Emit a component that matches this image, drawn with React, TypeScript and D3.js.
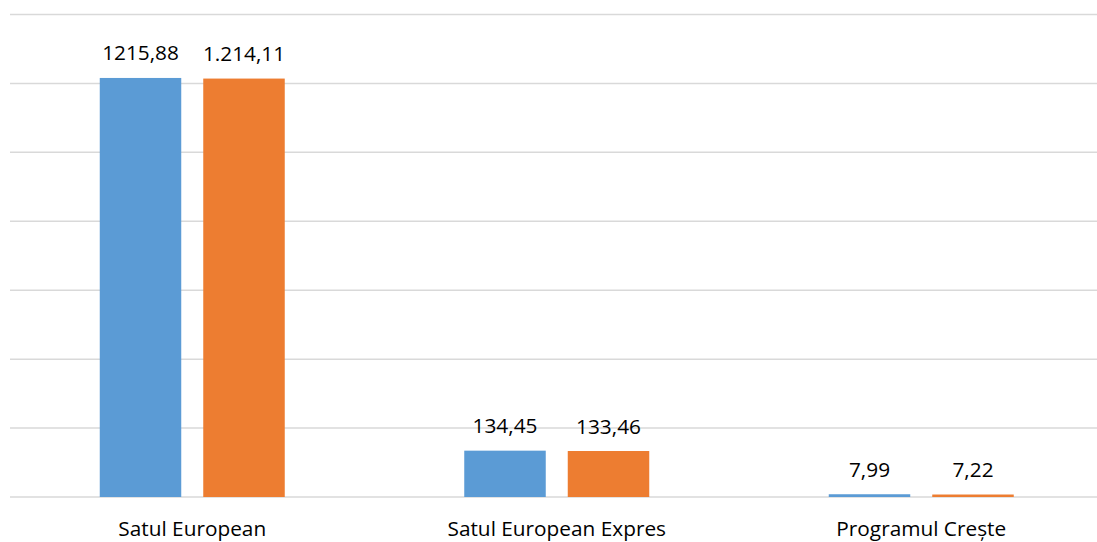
import React from "react";
import * as d3 from "d3";

const categories = ["Satul European", "Satul European Expres", "Programul Crește"];
const series1 = [1215.88, 134.45, 7.99];
const series2 = [1214.11, 133.46, 7.22];
const labels1 = ["1215,88", "134,45", "7,99"];
const labels2 = ["1.214,11", "133,46", "7,22"];
const yTicks = [0, 200, 400, 600, 800, 1000, 1200, 1400];
const colors = ["#5B9BD5", "#ED7D31"];

const W = 1097;
const H = 542;

export default function App() {
  const x = d3.scaleBand<string>().domain(categories).range([10, 1103.5]).padding(0);
  const inner = d3.scaleBand<string>().domain(["a", "b"]).range([89.75, 89.75 + 185]).paddingInner(22 / 103.5);
  const y = d3.scaleLinear().domain([0, 1400]).range([497, 14.5]);
  const font = "'Open Sans', sans-serif";
  const fs = 20.8;
  const series = [
    { key: "a", values: series1, labels: labels1, color: colors[0] },
    { key: "b", values: series2, labels: labels2, color: colors[1] },
  ];
  return (
    <div style={{ position: "fixed", left: 0, top: 0 }}>
      <svg width={W} height={H} style={{ display: "block", background: "#fff" }}>
        {yTicks.map((t) => (
          <line key={t} x1={10} x2={W} y1={y(t)} y2={y(t)} stroke="#D9D9D9" strokeWidth={1.5} />
        ))}
        {categories.map((c, i) => (
          <g key={c}>
            {series.map((s) => {
              const bx = (x(c) ?? 0) + (inner(s.key) ?? 0);
              const bw = inner.bandwidth();
              const top = y(s.values[i]);
              return (
                <g key={s.key}>
                  <rect x={bx} y={top} width={bw} height={y(0) - top} fill={s.color} />
                  <text
                    x={bx + bw / 2}
                    y={top - 17.5}
                    textAnchor="middle"
                    fontFamily={font}
                    fontSize={fs}
                    fill="#000"
                  >
                    {s.labels[i]}
                  </text>
                </g>
              );
            })}
            <text
              x={(x(c) ?? 0) + x.bandwidth() / 2}
              y={535.5}
              textAnchor="middle"
              fontFamily={font}
              fontSize={fs}
              fill="#000"
            >
              {c}
            </text>
          </g>
        ))}
      </svg>
    </div>
  );
}
